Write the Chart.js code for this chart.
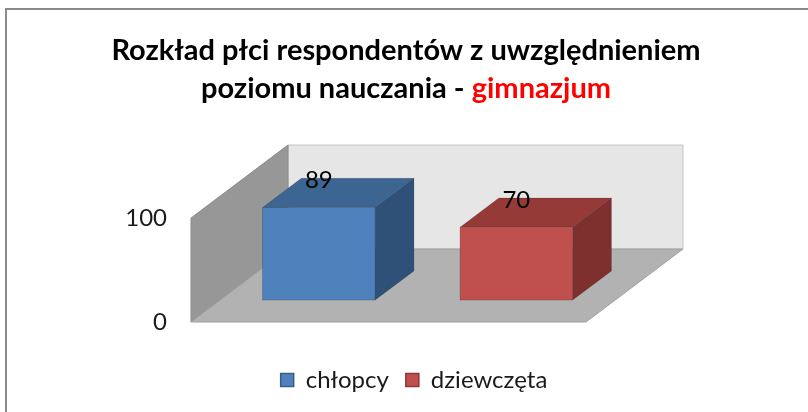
<!DOCTYPE html>
<html>
<head>
<meta charset="utf-8">
<script src="https://cdn.jsdelivr.net/npm/chart.js@4/dist/chart.umd.min.js"></script>
<style>
  html, body { margin: 0; padding: 0; background: #ffffff; }
  canvas { display: block; }
</style>
</head>
<body>
<canvas id="c" width="808" height="412"></canvas>
<script>
// ---- data ----
const titleLine1 = 'Rozkład płci respondentów z uwzględnieniem';
const titleLine2 = 'poziomu nauczania - ';
const titleLine2Red = 'gimnazjum';
const categories = ['chłopcy', 'dziewczęta'];
const seriesNames = ['chłopcy', 'dziewczęta'];
const values = [89, 70];
const yTicks = [0, 100];

// ---- styles ----
const FONT = 'Lato, "Liberation Sans", sans-serif';
const faceColors = [
  { front: '#4f81bd', top: '#3d6592', side: '#2f5178', edge: '#385d8a' },
  { front: '#c0504d', top: '#953a37', side: '#7d302e', edge: '#8c3836' }
];
const DX = 97, DY = -73;      // depth vector of the 3D floor
const F0 = 0.30, F1 = 0.70;   // bar front/back depth fractions

function poly(ctx, pts, fill, stroke) {
  ctx.beginPath();
  ctx.moveTo(pts[0][0], pts[0][1]);
  for (let i = 1; i < pts.length; i++) ctx.lineTo(pts[i][0], pts[i][1]);
  ctx.closePath();
  ctx.fillStyle = fill;
  ctx.fill();
  if (stroke) { ctx.strokeStyle = stroke; ctx.lineWidth = 1; ctx.stroke(); }
}

const framePlugin = {
  id: 'frame',
  beforeDraw(chart) {
    const ctx = chart.ctx;
    ctx.save();
    ctx.fillStyle = '#ffffff';
    ctx.fillRect(0, 0, chart.width, chart.height);
    ctx.fillStyle = '#8a8a8a';
    ctx.fillRect(5, 8, 2, chart.height - 8);
    ctx.fillRect(5, 8, chart.width - 5, 2);
    // title
    ctx.font = 'bold 29px ' + FONT;
    ctx.textBaseline = 'alphabetic';
    ctx.textAlign = 'center';
    ctx.fillStyle = '#000000';
    const cx = 406;
    ctx.fillText(titleLine1, cx, 60);
    const w1 = ctx.measureText(titleLine2).width;
    const w2 = ctx.measureText(titleLine2Red).width;
    const x0 = cx - (w1 + w2) / 2;
    ctx.textAlign = 'left';
    ctx.fillText(titleLine2, x0, 98);
    ctx.fillStyle = '#ff0000';
    ctx.fillText(titleLine2Red, x0 + w1, 98);
    ctx.restore();
  }
};

const box3dPlugin = {
  id: 'box3d',
  beforeDatasetsDraw(chart) {
    const ctx = chart.ctx;
    const a = chart.chartArea;
    const L = a.left, R = a.right, T = a.top, B = a.bottom;
    ctx.save();
    // back wall
    poly(ctx, [[L + DX, T + DY], [R + DX, T + DY], [R + DX, B + DY], [L + DX, B + DY]], '#e6e6e6', '#c4c4c4');
    // left wall
    poly(ctx, [[L, T], [L + DX, T + DY], [L + DX, B + DY], [L, B]], '#979797', '#8c8c8c');
    // floor
    poly(ctx, [[L, B], [R, B], [R + DX, B + DY], [L + DX, B + DY]], '#b2b2b2', '#a0a0a0');

    chart.data.datasets.forEach((ds, di) => {
      const meta = chart.getDatasetMeta(di);
      if (meta.hidden) return;
      const c = faceColors[di];
      meta.data.forEach((el, i) => {
        const v = ds.data[i];
        if (v === null || v === undefined) return;
        const p = el.getProps(['x', 'y', 'base', 'width'], true);
        const fx = F0 * DX, fy = F0 * DY, bx = F1 * DX, by = F1 * DY;
        const xl = p.x - p.width / 2, xr = p.x + p.width / 2;
        const yt = p.y, yb = p.base;
        // right side
        poly(ctx, [[xr + fx, yt + fy], [xr + bx, yt + by], [xr + bx, yb + by], [xr + fx, yb + fy]], c.side, 'rgba(0,0,0,0.15)');
        // top
        poly(ctx, [[xl + fx, yt + fy], [xl + bx, yt + by], [xr + bx, yt + by], [xr + fx, yt + fy]], c.top, 'rgba(0,0,0,0.15)');
        // front
        poly(ctx, [[xl + fx, yt + fy], [xr + fx, yt + fy], [xr + fx, yb + fy], [xl + fx, yb + fy]], c.front, 'rgba(0,0,0,0.18)');
        // value label
        ctx.font = '24px ' + FONT;
        ctx.fillStyle = '#000000';
        ctx.textAlign = 'center';
        ctx.textBaseline = 'middle';
        ctx.fillText(String(v), p.x + fx, yt + fy - 27);
      });
    });
    ctx.restore();
    return false;
  }
};

const datasets = seriesNames.map((name, si) => ({
  label: name,
  data: categories.map((_, ci) => (ci === si ? values[si] : null)),
  backgroundColor: faceColors[si].front,
  borderColor: faceColors[si].edge,
  borderWidth: 1.5,
  grouped: false,
  categoryPercentage: 1,
  barPercentage: 0.57
}));

new Chart(document.getElementById('c'), {
  type: 'bar',
  data: { labels: categories, datasets },
  options: {
    responsive: false,
    animation: false,
    devicePixelRatio: 1,
    layout: { padding: { top: 218, left: 20, right: 0, bottom: 10 } },
    scales: {
      x: {
        display: true,
        ticks: { display: false },
        grid: { display: false },
        border: { display: false },
        afterFit(s) { s.height = 29; }
      },
      y: {
        position: 'left',
        min: yTicks[0],
        max: yTicks[yTicks.length - 1],
        afterBuildTicks(s) { s.ticks = yTicks.map(v => ({ value: v })); },
        ticks: { padding: 16, color: '#1a1a1a', font: { family: FONT, size: 24 } },
        grid: { display: false },
        border: { display: false },
        afterFit(s) { s.width = 171; }
      },
      yRight: {
        position: 'right',
        display: true,
        ticks: { display: false },
        grid: { display: false },
        border: { display: false },
        afterFit(s) { s.width = 222; }
      }
    },
    plugins: {
      title: { display: false },
      tooltip: { enabled: false },
      legend: {
        position: 'bottom',
        labels: {
          boxWidth: 13,
          boxHeight: 13,
          padding: 17,
          color: '#1a1a1a',
          font: { family: FONT, size: 24 }
        }
      }
    }
  },
  plugins: [framePlugin, box3dPlugin]
});
</script>
</body>
</html>
